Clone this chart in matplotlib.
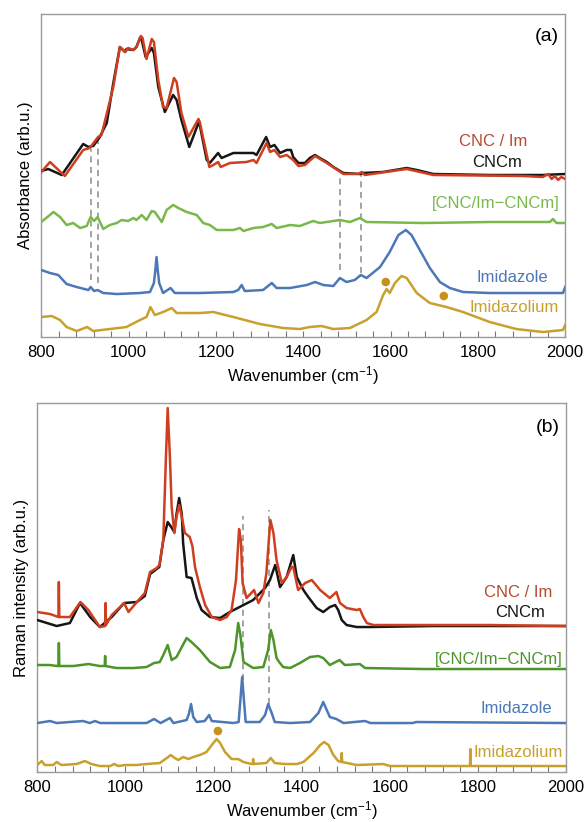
import matplotlib
matplotlib.use("Agg")
import matplotlib.pyplot as plt
from matplotlib.ticker import MultipleLocator

plt.rcParams['font.family'] = ['Liberation Sans', 'DejaVu Sans']
plt.rcParams['mathtext.fontset'] = 'custom'
plt.rcParams['mathtext.rm'] = 'Liberation Sans'
plt.rcParams['mathtext.default'] = 'regular'

# ---------------- Panel (a): IR absorbance ----------------
a_cncm_x = [800, 816, 847, 896, 908, 919, 934, 950, 965, 980, 992, 995, 1011, 1018, 1026, 1030, 1039,
            1053, 1058, 1068, 1083, 1102, 1110, 1121, 1139, 1160, 1163, 1179, 1186, 1205, 1213, 1240,
            1286, 1293, 1315, 1324, 1334, 1347, 1362, 1372, 1377, 1389, 1404, 1415, 1427, 1434, 1454,
            1469, 1492, 1530, 1537, 1583, 1637, 1660, 1698, 1827, 1949, 2000]
a_cncm_y = [166, 168, 162, 193, 190, 191, 200, 214, 254, 290, 285, 288, 287, 290, 299, 297, 280,
            289, 284, 250, 225, 242, 237, 217, 190, 214, 212, 177, 174, 184, 179, 184,
            184, 182, 200, 190, 192, 184, 187, 187, 180, 174, 174, 179, 182, 180, 175,
            170, 164, 163, 164, 165, 169, 167, 163, 162, 162, 163]

a_cncim_x = [800, 820, 854, 896, 911, 930, 938, 965, 980, 992, 999, 1011, 1018, 1028, 1032, 1041, 1053,
             1058, 1068, 1079, 1087, 1104, 1110, 1121, 1137, 1160, 1163, 1185, 1194, 1205, 1211, 1232,
             1270, 1286, 1293, 1316, 1324, 1334, 1347, 1362, 1377, 1389, 1404, 1427, 1454, 1492, 1526,
             1534, 1541, 1637, 1698, 1904, 1949, 1961, 1969, 1976, 1984, 1991, 2000]
a_cncim_y = [165, 175, 161, 187, 189, 200, 202, 250, 290, 285, 289, 287, 290, 301, 299, 278, 298,
             295, 257, 230, 229, 259, 255, 224, 200, 218, 215, 170, 172, 175, 170, 174,
             175, 177, 174, 194, 185, 187, 180, 182, 177, 171, 172, 181, 174, 163, 163,
             165, 162, 168, 162, 161, 160, 163, 158, 161, 157, 160, 158]

a_diff_x = [800, 828, 843, 858, 873, 889, 904, 913, 921, 929, 942, 957, 973, 984, 999, 1011, 1018, 1030,
            1041, 1053, 1060, 1076, 1087, 1102, 1114, 1133, 1156, 1171, 1186, 1202, 1240, 1255, 1263,
            1286, 1308, 1328, 1339, 1370, 1392, 1423, 1438, 1484, 1507, 1530, 1545, 1675, 1827, 1965,
            1972, 1980, 2000]
a_diff_y = [115, 125, 120, 112, 114, 109, 111, 120, 116, 120, 108, 112, 114, 117, 116, 119, 117, 122,
            117, 126, 125, 115, 127, 132, 129, 125, 122, 114, 112, 107, 107, 109, 106,
            109, 110, 113, 109, 112, 111, 116, 114, 117, 115, 119, 115, 114, 115, 115,
            118, 114, 114]

a_imz_x = [800, 820, 839, 858, 881, 908, 913, 921, 929, 942, 973, 1026, 1049, 1058, 1061, 1064, 1067,
           1070, 1079, 1096, 1106, 1163, 1240, 1251, 1259, 1266, 1308, 1328, 1339, 1370, 1408, 1427,
           1446, 1469, 1484, 1499, 1518, 1532, 1545, 1576, 1598, 1618, 1635, 1648, 1667, 1690, 1713,
           1736, 1766, 1827, 1995, 2000]
a_imz_y = [67, 64, 62, 53, 50, 47, 50, 46, 47, 44, 43, 44, 45, 54, 66, 80, 66,
           54, 44, 49, 44, 44, 45, 47, 52, 46, 47, 54, 49, 49, 52, 55,
           52, 51, 59, 55, 57, 62, 59, 70, 85, 102, 107, 102, 87, 69, 55,
           49, 45, 44, 44, 50]

a_imzm_x = [800, 824, 843, 858, 881, 905, 919, 957, 995, 1026, 1041, 1050, 1060, 1079, 1099, 1110,
            1163, 1194, 1240, 1301, 1354, 1392, 1415, 1442, 1469, 1507, 1545, 1568, 1583, 1591, 1598,
            1610, 1625, 1637, 1660, 1690, 1728, 1766, 1827, 1888, 1949, 1995, 2000]
a_imzm_y = [20, 21, 17, 10, 6, 10, 6, 8, 10, 17, 20, 30, 22, 25, 29, 24,
            24, 25, 20, 13, 9, 8, 10, 11, 8, 9, 17, 25, 42, 48, 44,
            54, 61, 59, 44, 34, 30, 25, 15, 8, 5, 7, 12]

a_dash_x = [913, 930, 1484, 1532]
a_dash_top = [188, 200, 160, 164]
a_dash_bot = [57, 54, 67, 64]
a_dot_x = [1589, 1722]
a_dot_y = [55, 41]

# ---------------- Panel (b): Raman ----------------
b_cncm_x = [800, 844, 874, 897, 920, 942, 969, 997, 1026, 1044, 1056, 1077, 1086,
            1096, 1104, 1111, 1116, 1122, 1128, 1131, 1139, 1150, 1162, 1173, 1192, 1215, 1237,
            1268, 1290, 1317, 1328, 1340, 1351, 1366, 1381, 1389, 1404, 1415, 1434, 1449, 1464, 1476,
            1483, 1491, 1502, 1525, 1555, 1700, 2000]
b_cncm_y = [152, 146, 149, 169, 155, 145, 155, 169, 170, 176, 198, 205, 232,
            250, 245, 240, 258, 274, 258, 229, 195, 194, 174, 162, 155, 154, 160,
            167, 172, 184, 192, 207, 185, 195, 217, 195, 182, 175, 164, 160, 165, 167,
            162, 152, 147, 145, 145, 146, 146]

b_cncim_x = [800, 829, 848, 849, 850, 874, 898, 916, 942, 954, 955, 956, 969, 997, 1007,
             1026, 1044, 1056, 1071, 1077, 1086, 1092, 1096, 1101, 1105, 1111, 1116, 1122, 1128,
             1135, 1146, 1152, 1158, 1169, 1181, 1196, 1215, 1230, 1241, 1251, 1258, 1262, 1266,
             1275, 1292, 1302, 1313, 1320, 1329, 1336, 1343, 1355, 1366, 1377, 1381, 1392, 1408,
             1423, 1442, 1464, 1479, 1487, 1502, 1525, 1532, 1540, 1548, 1563, 1676, 1828, 2000]
b_cncim_y = [160, 158, 155, 190, 155, 155, 170, 162, 145, 146, 169, 147, 157, 169, 160,
             170, 179, 200, 204, 207, 232, 315, 364, 315, 265, 239, 255, 267, 255,
             239, 235, 226, 205, 185, 167, 155, 152, 155, 162, 192, 243, 232, 189,
             174, 182, 169, 179, 199, 252, 239, 212, 189, 195, 205, 205, 182, 189,
             192, 182, 174, 180, 169, 164, 162, 163, 155, 149, 147, 147, 147, 146]

b_diff_x = [800, 829, 845, 848, 849, 850, 882, 916, 942, 953, 954, 955, 980, 1018, 1048, 1065, 1078,
            1086, 1096, 1105, 1116, 1128, 1139, 1150, 1169, 1192, 1215, 1237, 1249, 1256, 1261, 1268,
            1290, 1313, 1324, 1330, 1336, 1343, 1349, 1358, 1374, 1396, 1419, 1438, 1449, 1464, 1486,
            1498, 1532, 1544, 1676, 2000]
b_diff_y = [107, 107, 106, 106, 129, 106, 106, 108, 106, 106, 116, 106, 104, 104, 105, 109, 110,
            117, 127, 112, 115, 125, 134, 130, 122, 110, 104, 105, 122, 149, 137, 110,
            104, 105, 122, 142, 132, 114, 110, 105, 104, 109, 115, 116, 114, 107, 112,
            107, 108, 104, 103, 103]

b_imz_x = [800, 829, 844, 904, 919, 931, 943, 1048, 1065, 1080, 1101, 1109, 1139, 1144, 1149, 1154,
           1162, 1180, 1190, 1196, 1245, 1257, 1261, 1265, 1269, 1273, 1305, 1317, 1324, 1332, 1339,
           1374, 1419, 1438, 1449, 1455, 1464, 1479, 1495, 1544, 1556, 1652, 1660, 2000]
b_imz_y = [49, 51, 49, 51, 49, 51, 49, 49, 53, 49, 54, 49, 52, 58, 68, 55,
           50, 51, 57, 51, 49, 50, 72, 95, 72, 50, 50, 57, 68, 59, 50,
           49, 50, 59, 70, 64, 55, 53, 49, 51, 49, 49, 50, 49]

b_imzm_x = [800, 810, 817, 836, 844, 855, 889, 908, 923, 942, 965, 975, 984, 999, 1025, 1048, 1078,
            1094, 1103, 1112, 1120, 1131, 1143, 1154, 1169, 1184, 1196, 1207, 1215, 1226, 1241, 1256,
            1268, 1286, 1289, 1290, 1291, 1320, 1330, 1339, 1362, 1389, 1404, 1427, 1442, 1451, 1461,
            1472, 1483, 1490, 1491, 1492, 1525, 1585, 1601, 1782, 1783, 1784, 2000]
b_imzm_y = [7, 11, 7, 7, 10, 7, 8, 11, 8, 6, 6, 8, 6, 7, 7, 8, 9,
            14, 17, 14, 12, 15, 13, 15, 17, 20, 27, 33, 29, 20, 13, 13,
            10, 8, 8, 13, 8, 9, 14, 9, 8, 8, 10, 19, 27, 30, 27,
            17, 11, 10, 19, 10, 7, 8, 6, 6, 23, 6, 6]

b_dash_x = [1268, 1326]
b_dash_top = [256, 262]
b_dash_bot = [92, 68]
b_dot_x = [1210]
b_dot_y = [41]

labels = ['CNC / Im', 'CNCm', '[CNC/Im\u2212CNCm]', 'Imidazole', 'Imidazolium']

# ---------------- Styling ----------------
c_red = '#CF3F1F'
c_blk = '#161616'
c_green_a = '#79B94C'
c_green_b = '#4D952B'
c_blue = '#4C78B6'
c_gold = '#C9A02C'
c_dot = '#C6921C'
lw = 1.8

fig = plt.figure(figsize=(5.88, 8.22), dpi=100)
ax1 = fig.add_axes([0.0702, 0.590, 0.891, 0.393])
ax2 = fig.add_axes([0.0634, 0.0608, 0.8992, 0.4489])


def style(ax, ymax):
    ax.set_xlim(800, 2000)
    ax.set_ylim(0, ymax)
    ax.set_yticks([])
    ax.xaxis.set_major_locator(MultipleLocator(200))
    ax.xaxis.set_minor_locator(MultipleLocator(40))
    ax.tick_params(axis='x', which='both', direction='in', length=4, width=0.8,
                   color='#777777', labelsize=12, pad=6, top=False)
    for s in ax.spines.values():
        s.set_color('#9a9a9a')
        s.set_linewidth(1.0)
    ax.set_xlabel('Wavenumber (cm$^{-1}$)', fontsize=12, labelpad=3)


# Panel (a)
style(ax1, 323)
ax1.plot(a_cncm_x, a_cncm_y, color=c_blk, lw=lw, zorder=3)
ax1.plot(a_cncim_x, a_cncim_y, color=c_red, lw=lw, zorder=4)
ax1.plot(a_diff_x, a_diff_y, color=c_green_a, lw=lw, zorder=3)
ax1.plot(a_imz_x, a_imz_y, color=c_blue, lw=lw, zorder=3)
ax1.plot(a_imzm_x, a_imzm_y, color=c_gold, lw=lw, zorder=3)
ax1.vlines(a_dash_x, a_dash_bot, a_dash_top, colors='#8a8a8a', linestyles=(0, (4, 3)), lw=1.1, zorder=2)
ax1.scatter(a_dot_x, a_dot_y, s=38, color=c_dot, zorder=5, edgecolors='none')
ax1.set_ylabel('Absorbance (arb.u.)', fontsize=12, labelpad=6)
ax1.text(0.988, 0.93, '(a)', transform=ax1.transAxes, ha='right', va='center', fontsize=14)
ax1.text(1914, 195, labels[0], color='#B84A30', fontsize=12, ha='right', va='center')
ax1.text(1902, 174, labels[1], color=c_blk, fontsize=12, ha='right', va='center')
ax1.text(1988, 134, labels[2], color=c_green_a, fontsize=12, ha='right', va='center')
ax1.text(1960, 60, labels[3], color=c_blue, fontsize=12, ha='right', va='center')
ax1.text(1985, 30, labels[4], color=c_gold, fontsize=12, ha='right', va='center')

# Panel (b)
style(ax2, 369)
ax2.plot(b_cncm_x, b_cncm_y, color=c_blk, lw=lw, zorder=3)
ax2.plot(b_cncim_x, b_cncim_y, color=c_red, lw=lw, zorder=4)
ax2.plot(b_diff_x, b_diff_y, color=c_green_b, lw=lw, zorder=3)
ax2.plot(b_imz_x, b_imz_y, color=c_blue, lw=lw, zorder=3)
ax2.plot(b_imzm_x, b_imzm_y, color=c_gold, lw=lw, zorder=3)
ax2.vlines(b_dash_x, b_dash_bot, b_dash_top, colors='#8a8a8a', linestyles=(0, (4, 3)), lw=1.1, zorder=2)
ax2.scatter(b_dot_x, b_dot_y, s=38, color=c_dot, zorder=5, edgecolors='none')
ax2.set_ylabel('Raman intensity (arb.u.)', fontsize=12, labelpad=6)
ax2.text(0.988, 0.935, '(b)', transform=ax2.transAxes, ha='right', va='center', fontsize=14)
ax2.text(1968, 180, labels[0], color='#B84A30', fontsize=12, ha='right', va='center')
ax2.text(1952, 160, labels[1], color=c_blk, fontsize=12, ha='right', va='center')
ax2.text(1992, 113, labels[2], color=c_green_b, fontsize=12, ha='right', va='center')
ax2.text(1968, 64, labels[3], color=c_blue, fontsize=12, ha='right', va='center')
ax2.text(1993, 20, labels[4], color=c_gold, fontsize=12, ha='right', va='center')

fig.savefig('out.png', dpi=100)
